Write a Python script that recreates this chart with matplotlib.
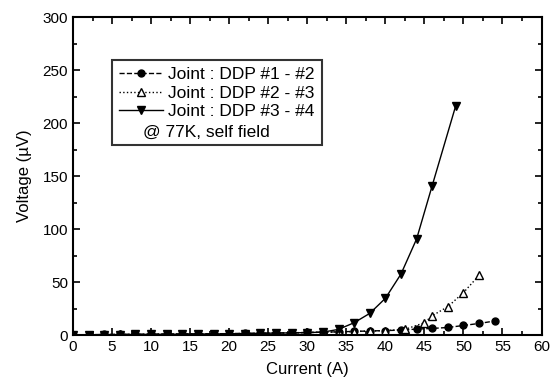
import matplotlib
matplotlib.use('Agg')
import matplotlib.pyplot as plt
from matplotlib.ticker import MultipleLocator

plt.rcParams['font.family'] = ['Liberation Sans', 'DejaVu Sans']

# joint DDP #1 - #2 (current in A, voltage in uV)
current_12 = list(range(0, 56, 2))
voltage_12 = [0.0, 0.3, 0.5, 0.6, 0.7, 0.8, 0.9, 1.0, 1.1, 1.2, 1.3, 1.5, 1.7,
              1.9, 2.1, 2.4, 2.7, 3.0, 3.4, 3.8, 4.2, 4.6, 5.6, 6.2, 7.1, 9.0,
              10.9, 13.2]

# joint DDP #2 - #3
current_23 = list(range(0, 42, 2)) + [42.5, 45, 46, 48, 50, 52]
voltage_23 = [0.0, 0.2, 0.4, 0.5, 0.6, 0.7, 0.8, 0.9, 1.0, 1.1, 1.2, 1.4, 1.6,
              1.8, 2.0, 2.3, 2.6, 2.9, 3.3, 3.7, 4.2, 5.3, 11.6, 18.2, 26.7,
              40.0, 56.3]

# joint DDP #3 - #4
current_34 = list(range(0, 48, 2)) + [49]
voltage_34 = [0.0, 0.2, 0.3, 0.4, 0.5, 0.6, 0.7, 0.8, 0.9, 1.0, 1.2, 1.4, 1.6,
              1.8, 2.0, 2.3, 2.7, 5.3, 11.6, 20.4, 34.6, 57.5, 90.6, 141.0,
              216.0]

fig = plt.figure(figsize=(5.56, 3.83), dpi=100)
ax = fig.add_axes([0.1313, 0.1253, 0.8427, 0.8303])

ax.plot(current_12, voltage_12, '--', color='black', lw=1.0, marker='o',
        ms=5, mfc='black', mec='black', label='Joint : DDP #1 - #2')
ax.plot(current_23, voltage_23, ':', color='black', lw=1.0, marker='^',
        ms=6, mfc='white', mec='black', label='Joint : DDP #2 - #3')
ax.plot(current_34, voltage_34, '-', color='black', lw=1.0, marker='v',
        ms=6, mfc='black', mec='black', label='Joint : DDP #3 - #4')
ax.plot([], [], ' ', label=' ')

ax.set_xlim(0, 60)
ax.set_ylim(0, 300)
ax.xaxis.set_major_locator(MultipleLocator(5))
ax.xaxis.set_minor_locator(MultipleLocator(2.5))
ax.yaxis.set_major_locator(MultipleLocator(50))
ax.yaxis.set_minor_locator(MultipleLocator(25))
ax.tick_params(which='both', direction='in', top=True, right=True,
               width=1.2, labelsize=11)
ax.tick_params(which='major', length=5)
ax.tick_params(which='minor', length=3)
for s in ax.spines.values():
    s.set_linewidth(1.5)

ax.set_xlabel('Current (A)', fontsize=12, labelpad=6)
ax.set_ylabel('Voltage (\u00b5V)', fontsize=12, labelpad=8)

leg = ax.legend(loc='upper left', bbox_to_anchor=(0.083, 0.865),
                borderaxespad=0, fontsize=12.5, frameon=True, fancybox=False,
                edgecolor='black', handlelength=2.55, handletextpad=0.3,
                labelspacing=0.2, borderpad=0.4)
leg.get_frame().set_linewidth(1.5)
ax.text(0.150, 0.638, '@ 77K, self field', transform=ax.transAxes,
        fontsize=12.5, va='center', ha='left', zorder=6)

fig.savefig('out.png', dpi=100)
